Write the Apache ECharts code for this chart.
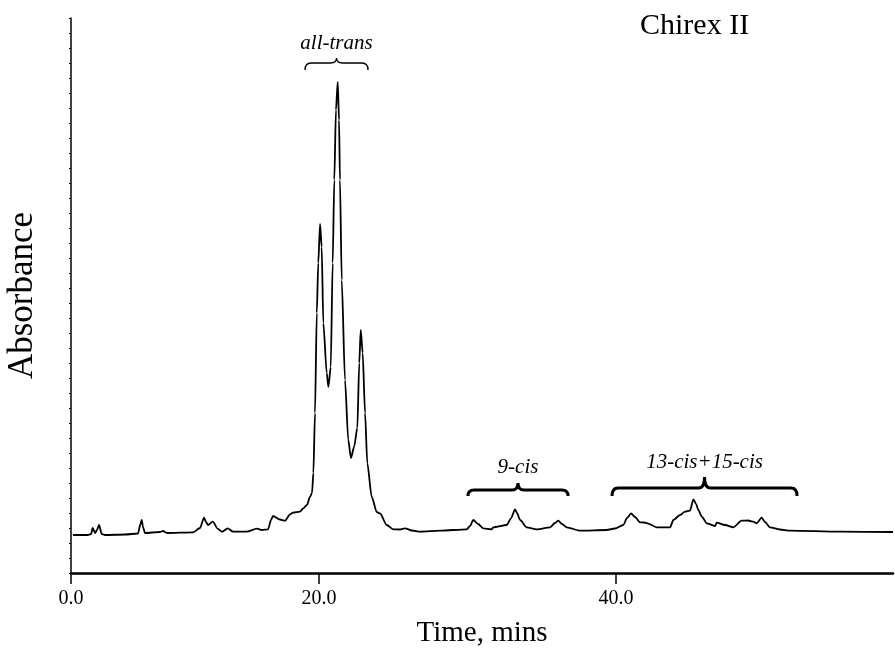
<!DOCTYPE html>
<html>
<head>
<meta charset="utf-8">
<script src="https://cdn.jsdelivr.net/npm/echarts@6/dist/echarts.min.js"></script>
<style>
html,body{margin:0;padding:0;background:#fff;}
#chart{width:895px;height:658px;}
</style>
</head>
<body>
<div id="chart"></div>
<script>
// Retention time (min) and absorbance (arbitrary units)
var time = [
  3.43, 4.44, 4.65, 4.76, 4.92, 5.05, 5.19, 5.37, 5.59, 6.94,
  7.81, 7.98, 8.06, 8.15, 8.28, 9.29, 9.49, 9.76, 11.52, 11.99,
  12.26, 12.39, 12.53, 12.84, 13.20, 13.47, 13.85, 14.21, 15.15, 15.82,
  16.16, 16.57, 16.77, 16.90, 17.37, 17.71, 18.05, 18.25, 18.72, 18.94,
  19.19, 19.39, 19.53, 19.62, 19.73, 19.85, 19.95, 20.07, 20.18, 20.29,
  20.52, 20.63, 20.79, 20.92, 21.03, 21.14, 21.26, 21.35, 21.41, 21.53,
  21.75, 21.97, 22.15, 22.36, 22.58, 22.71, 22.81, 22.94, 23.10, 23.25,
  23.55, 23.89, 24.11, 24.56, 25.00, 25.45, 25.79, 26.26, 26.80, 28.15,
  29.95, 30.17, 30.39, 30.71, 31.06, 31.63, 31.74, 32.64, 32.93, 33.20,
  33.33, 33.54, 33.99, 34.66, 35.56, 35.89, 36.11, 36.36, 36.68, 37.58,
  39.37, 39.93, 40.49, 40.74, 41.01, 41.28, 41.62, 41.89, 42.11, 42.74,
  43.64, 43.86, 44.31, 44.65, 44.98, 45.21, 45.39, 45.54, 45.79, 46.11,
  46.67, 46.78, 47.34, 47.90, 48.46, 48.89, 49.25, 49.47, 49.81, 50.03,
  50.37, 51.04, 51.72, 55.08, 58.65
];
var absorbance = [
  38, 38, 39, 45, 40, 43, 48, 39, 38, 38.5,
  39.5, 49, 53, 46, 40, 41, 42, 40, 40.7, 45,
  55.3, 51, 48, 51.3, 44, 41.3, 44.7, 41.3, 41.3, 44.3,
  43, 43.7, 53, 57, 53.5, 52.3, 58.7, 60.3, 61.3, 64.7,
  68, 76, 80, 100, 160, 260, 310, 349, 326, 250,
  200, 186, 206, 310, 393, 463, 491, 453, 393, 293,
  193, 133, 115, 126, 145, 210, 243, 220, 160, 110,
  76, 61, 59.5, 48, 43.7, 43.5, 44.7, 42.5, 41.3, 42.3,
  43.7, 47, 53, 49, 44.7, 43.7, 45.7, 48, 54.7, 63.7,
  60, 53, 45.7, 43.7, 45.7, 50, 52.3, 49, 45.7, 42.3,
  43, 44.5, 48, 55, 59.7, 56, 50.7, 50.5, 49.7, 45.7,
  45.7, 53, 58, 61.3, 62.3, 73.7, 69, 63, 56, 49.7,
  47, 50.3, 48, 45.7, 52.3, 52.5, 51.3, 49.7, 55.3, 51,
  45.7, 43.5, 42.3, 41.3, 41
];

// Axis tick values and their printed labels
var xTickValues = [3.3, 20, 40];
var xTickLabels = ['0.0', '20.0', '40.0'];

// Peak-group annotations (time range and absorbance level of the brace)
var bracketLabels = ['all-trans', '9-cis', '13-cis+15-cis'];
var bracketStart = [19.06, 30.03, 39.73];
var bracketEnd = [23.30, 36.77, 52.19];
var bracketLevel = [510, 83, 85];

// Styling of the braces (not data)
var bracketLineWidth = [1.4, 3, 3];
var bracketCusp = [5, 7, 11];
var bracketDrop = [7, 6, 8];
var bracketLabelGap = [20, 23, 26];

var serif = '"Liberation Serif", "Times New Roman", serif';

var lineData = time.map(function (t, i) { return [t, absorbance[i]]; });
var bracketData = bracketLabels.map(function (l, i) {
  return [bracketStart[i], bracketEnd[i], bracketLevel[i]];
});

var chart = echarts.init(document.getElementById('chart'), null, {renderer: 'canvas'});
chart.setOption({
  animation: false,
  backgroundColor: '#fff',
  title: {
    text: 'Chirex II',
    left: 635,
    top: 6,
    textStyle: {fontFamily: serif, fontSize: 30, fontWeight: 'normal', color: '#000'}
  },
  grid: {left: 71, right: 2, top: 18, bottom: 85, containLabel: false, outerBoundsMode: 'none'},
  xAxis: {
    type: 'value',
    min: 3.3,
    max: 58.65,
    name: 'Time, mins',
    nameLocation: 'middle',
    nameGap: 46,
    nameTextStyle: {fontFamily: serif, fontSize: 29, color: '#000'},
    axisLine: {show: true, onZero: false, lineStyle: {color: '#000', width: 2.5}},
    axisTick: {show: true, length: 11, customValues: xTickValues, lineStyle: {color: '#000', width: 1.5}},
    axisLabel: {
      show: true,
      customValues: xTickValues,
      margin: 16,
      fontFamily: serif,
      fontSize: 20,
      color: '#000',
      formatter: function (v) {
        for (var i = 0; i < xTickValues.length; i++) {
          if (Math.abs(xTickValues[i] - v) < 1e-6) return xTickLabels[i];
        }
        return '';
      }
    },
    splitLine: {show: false}
  },
  yAxis: {
    type: 'value',
    min: 0,
    max: 555,
    interval: 15,
    name: 'Absorbance',
    nameLocation: 'middle',
    nameGap: 31,
    nameTextStyle: {fontFamily: serif, fontSize: 35, color: '#000'},
    axisLine: {show: true, lineStyle: {color: '#000', width: 1.5}},
    axisTick: {show: true, length: 2, lineStyle: {color: '#000', width: 1}},
    axisLabel: {show: false},
    splitLine: {show: false}
  },
  series: [
    {
      type: 'line',
      data: lineData,
      symbol: 'none',
      smooth: 0.25,
      smoothMonotone: 'x',
      lineStyle: {color: '#000', width: 1.8},
      z: 3
    },
    {
      type: 'custom',
      data: bracketData,
      clip: false,
      silent: true,
      z: 4,
      renderItem: function (params, api) {
        var i = params.dataIndex;
        var p1 = api.coord([api.value(0), api.value(2)]);
        var p2 = api.coord([api.value(1), api.value(2)]);
        var x1 = p1[0], x2 = p2[0], y = p1[1];
        var xm = (x1 + x2) / 2;
        var r = 6, c = bracketCusp[i], d = bracketDrop[i];
        var path = 'M' + x1 + ',' + (y + d) +
          ' Q' + x1 + ',' + y + ' ' + (x1 + r) + ',' + y +
          ' L' + (xm - r) + ',' + y +
          ' Q' + xm + ',' + y + ' ' + xm + ',' + (y - c) +
          ' Q' + xm + ',' + y + ' ' + (xm + r) + ',' + y +
          ' L' + (x2 - r) + ',' + y +
          ' Q' + x2 + ',' + y + ' ' + x2 + ',' + (y + d);
        return {
          type: 'group',
          children: [
            {
              type: 'path',
              shape: {pathData: path},
              style: {stroke: '#000', lineWidth: bracketLineWidth[i], fill: null}
            },
            {
              type: 'text',
              style: {
                text: bracketLabels[i],
                x: xm,
                y: y - bracketLabelGap[i],
                align: 'center',
                verticalAlign: 'middle',
                fontFamily: serif,
                fontStyle: 'italic',
                fontSize: 21,
                fill: '#000'
              }
            }
          ]
        };
      }
    }
  ]
});
</script>
</body>
</html>
